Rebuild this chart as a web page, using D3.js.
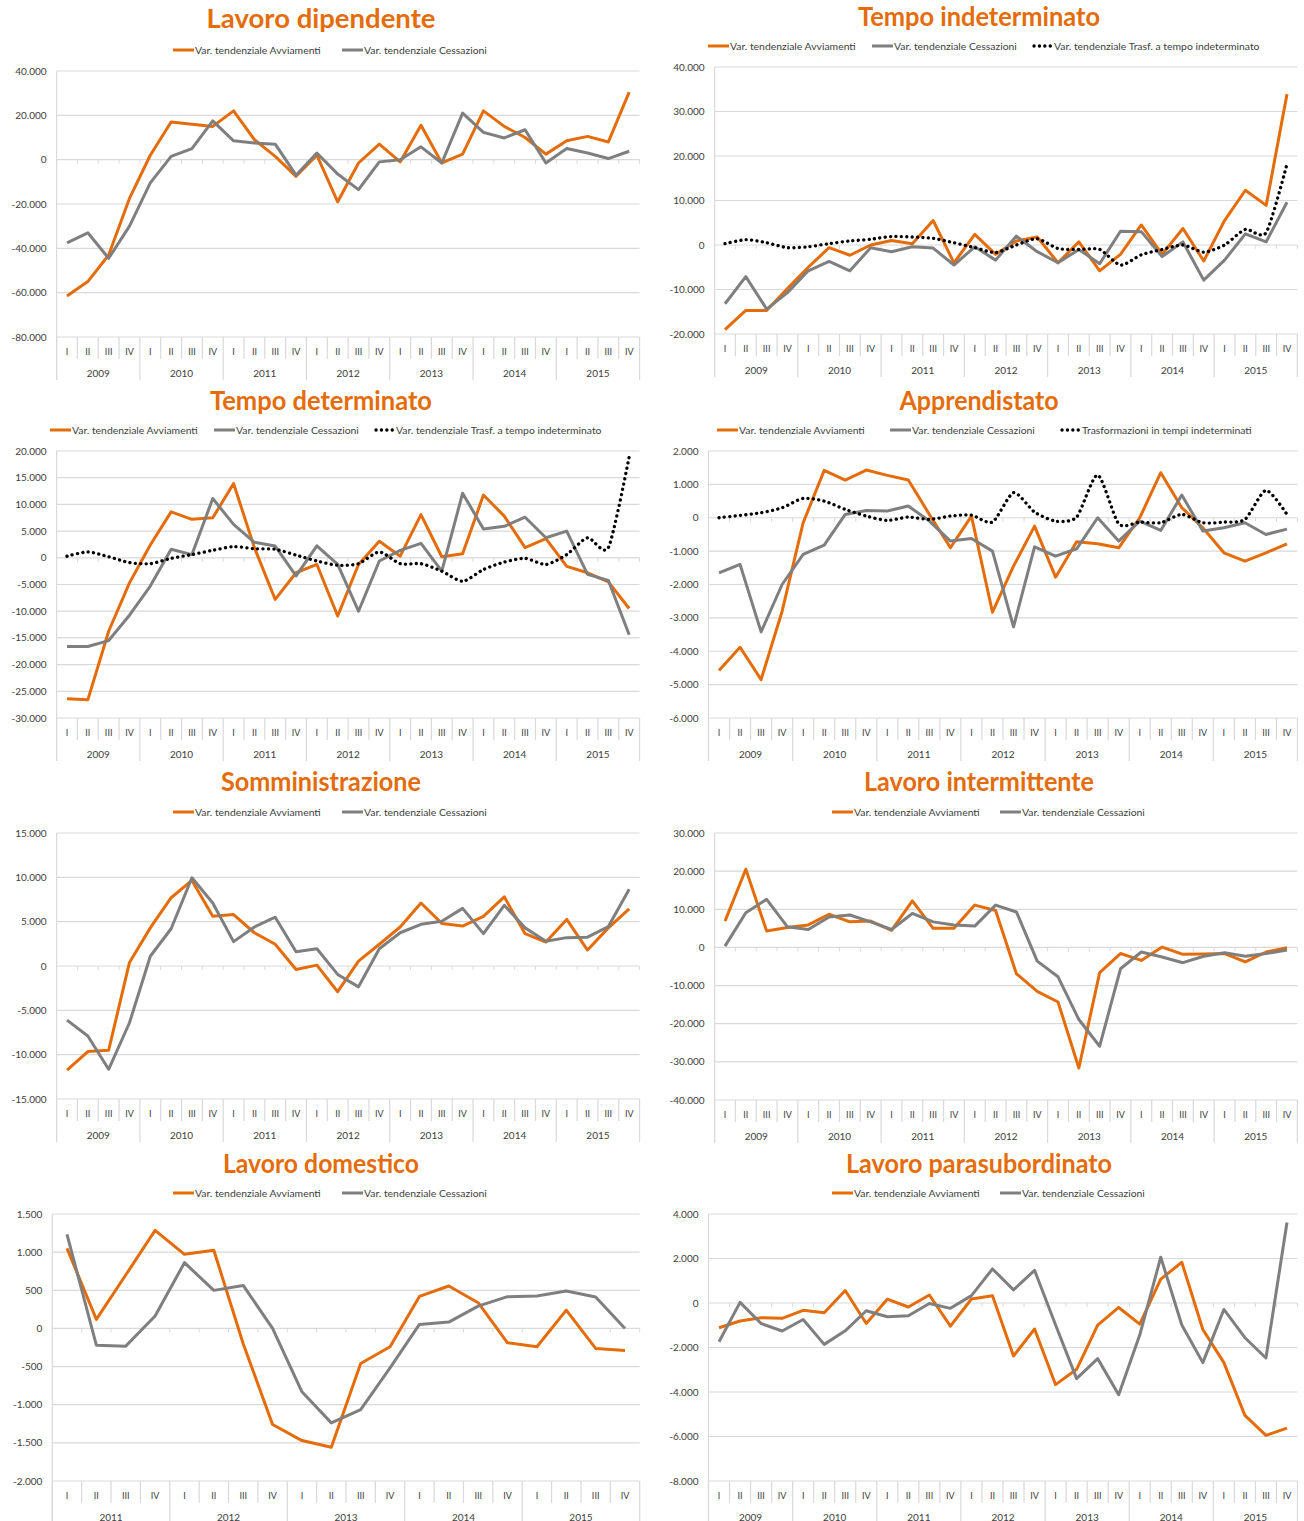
<!DOCTYPE html>
<html>
<head>
<meta charset="utf-8">
<script src="https://cdn.jsdelivr.net/npm/d3@7"></script>
<style>
  body { margin: 0; background: #fff; }
  svg { display: block; font-family: Lato, "Open Sans", sans-serif; }
</style>
</head>
<body>
<svg id="chart" width="1304" height="1521"></svg>
<script>
// quarters and years on the category axis
var quarters = ['I', 'II', 'III', 'IV'];
var years = ['2009', '2010', '2011', '2012', '2013', '2014', '2015'];
var yearsDomestico = ['2011', '2012', '2013', '2014', '2015'];

var labAvv = 'Var. tendenziale Avviamenti';
var labCess = 'Var. tendenziale Cessazioni';
var labTrasf = 'Var. tendenziale Trasf. a tempo indeterminato';
var labTrasfApp = 'Trasformazioni in tempi indeterminati';

// Lavoro dipendente
var dipAvv = [-61500, -55000, -43000, -17500, 2000, 17000, 16000, 15000, 22000, 9000, 1500, -7500,
  2000, -19000, -1500, 7000, -1000, 15500, -1500, 2500, 22000, 15000, 10000, 2500, 8500, 10500, 8000, 30500];
var dipCess = [-37500, -33000, -44500, -30000, -10500, 1500, 5000, 17500, 8500, 7500, 7000, -7000,
  3000, -6500, -13500, -1000, 0, 5800, -1500, 21000, 12300, 9800, 13500, -1500, 5000, 3000, 500, 3800];

// Tempo indeterminato
var indAvv = [-19000, -14700, -14700, -9800, -5000, -600, -2300, 0, 1000, 300, 5500, -4000,
  2400, -2100, 900, 1800, -4000, 700, -5800, -2100, 4500, -2100, 3700, -3600, 5500, 12300, 8900, 33900];
var indCess = [-13200, -7100, -14400, -10700, -5800, -3700, -5800, -600, -1500, -400, -700, -4500,
  -400, -3400, 2000, -1500, -4000, -1000, -4200, 3100, 3000, -2600, 700, -7900, -3400, 2500, 700, 9600];
var indTrasf = [300, 1200, 500, -600, -400, 300, 900, 1300, 1900, 1800, 1500, 500,
  -600, -1700, 0, 1400, -800, -1000, -1000, -4500, -2200, -1000, 0, -1600, 0, 3500, 2800, 18200];

// Tempo determinato
var detAvv = [-26400, -26600, -13750, -4700, 2400, 8600, 7200, 7500, 13900, 1900, -7800, -2800,
  -1250, -10900, -1250, 3100, 300, 8100, 200, 750, 11750, 7800, 1900, 3600, -1600, -2800, -4500, -9500];
var detCess = [-16600, -16600, -15500, -10750, -5300, 1600, 600, 11100, 6250, 2900, 2200, -3400,
  2250, -1250, -10000, -600, 1400, 2700, -2500, 12100, 5400, 5900, 7600, 3750, 5000, -3100, -4250, -14400];
var detTrasf = [300, 1100, 200, -900, -1100, -100, 600, 1400, 2100, 1700, 1600, 500,
  -600, -1400, -1100, 1100, -1100, -1100, -2500, -4400, -2200, -800, -100, -1250, 600, 3750, 1900, 18900];

// Apprendistato
var appAvv = [-4580, -3880, -4850, -2800, -150, 1420, 1130, 1430, 1270, 1130, 100, -900,
  50, -2830, -1450, -250, -1780, -720, -780, -900, 0, 1350, 300, -300, -1050, -1300, -1050, -780];
var appCess = [-1650, -1400, -3420, -2000, -1100, -820, 100, 220, 200, 350, -100, -700,
  -620, -1000, -3270, -870, -1150, -930, 0, -700, -100, -380, 680, -400, -300, -150, -500, -340];
var appTrasf = [0, 70, 150, 300, 580, 500, 250, 50, -80, 20, -50, 50,
  80, -130, 750, 170, -100, 20, 1280, -180, -130, -150, 100, -150, -130, -50, 820, 100];

// Somministrazione
var somAvv = [-11750, -9650, -9500, 400, 4300, 7700, 9650, 5600, 5800, 3750, 2450, -400,
  100, -2900, 550, 2450, 4400, 7100, 4800, 4500, 5600, 7800, 3650, 2700, 5250, 1800, 4300, 6450];
var somCess = [-6100, -7900, -11650, -6400, 1100, 4200, 9950, 7100, 2750, 4400, 5500, 1600,
  1950, -950, -2350, 1950, 3750, 4700, 5050, 6500, 3650, 6850, 4300, 2800, 3200, 3250, 4450, 8650];

// Lavoro intermittente
var intAvv = [6900, 20500, 4300, 5200, 5900, 8700, 6700, 6900, 4500, 12200, 5000, 5000,
  11100, 9700, -6900, -11500, -14300, -31600, -6600, -1600, -3400, 100, -1800, -1700, -1600, -3800, -1200, -100];
var intCess = [350, 9100, 12600, 5400, 4700, 8000, 8500, 6700, 4700, 8900, 6700, 5900,
  5600, 11100, 9300, -3600, -7700, -18900, -25900, -5600, -1200, -2500, -4000, -2300, -1400, -2300, -1600, -700];

// Lavoro domestico (2011-2015)
var domAvv = [1050, 118, 700, 1286, 971, 1024, -201, -1260, -1470, -1557,
  -459, -240, 420, 556, 337, -188, -240, 240, -262, -289];
var domCess = [1234, -219, -232, 162, 862, 499, 564, 0, -831, -1238,
  -1063, -516, 52, 83, 293, 416, 424, 490, 411, 0];

// Lavoro parasubordinato
var parAvv = [-1110, -810, -660, -690, -330, -440, 560, -920, 170, -180, 360, -1040,
  180, 330, -2380, -1170, -3670, -2980, -990, -200, -950, 1070, 1830, -1190, -2680, -5050, -5950, -5620];
var parCess = [-1740, 30, -920, -1260, -740, -1860, -1250, -350, -620, -570, -20, -240,
  330, 1530, 590, 1470, -990, -3400, -2500, -4120, -1440, 2060, -990, -2680, -290, -1560, -2470, 3620];

var ORANGE = '#e46c0a', GREY = '#7f7f7f', TEXT = '#404040', GRID = '#d9d9d9';

var it = d3.formatLocale({ decimal: ',', thousands: '.', grouping: [3], currency: ['€', ''], minus: '-' });
var fmt = it.format(',');

var svg = d3.select('#chart');
svg.append('rect').attr('width', 1304).attr('height', 1521).attr('fill', '#fff');

var panels = [
  { title: 'Lavoro dipendente', titleW: 229, years: years, domain: [-80000, 40000], step: 20000,
    x0: 56.6, x1: 639.6, y0: 71, y1: 337, titleY: 19, legY: 50, cx: 321,
    series: [[dipAvv, labAvv, 'o', 173], [dipCess, labCess, 'g', 342]] },
  { title: 'Tempo indeterminato', titleW: 242, years: years, domain: [-20000, 40000], step: 10000,
    x0: 714.6, x1: 1297.4, y0: 67, y1: 334, titleY: 17, legY: 46, cx: 979,
    series: [[indAvv, labAvv, 'o', 708], [indCess, labCess, 'g', 872], [indTrasf, labTrasf, 'd', 1032]] },
  { title: 'Tempo determinato', titleW: 222, years: years, domain: [-30000, 20000], step: 5000,
    x0: 56.6, x1: 639.6, y0: 451, y1: 718, titleY: 401, legY: 430, cx: 321,
    series: [[detAvv, labAvv, 'o', 50], [detCess, labCess, 'g', 214], [detTrasf, labTrasf, 'd', 374]] },
  { title: 'Apprendistato', titleW: 159, years: years, domain: [-6000, 2000], step: 1000,
    x0: 708.5, x1: 1297.5, y0: 451, y1: 718, titleY: 401, legY: 430, cx: 979,
    series: [[appAvv, labAvv, 'o', 717], [appCess, labCess, 'g', 890], [appTrasf, labTrasfApp, 'd', 1060]] },
  { title: 'Somministrazione', titleW: 200, years: years, domain: [-15000, 15000], step: 5000,
    x0: 56.6, x1: 639.6, y0: 833, y1: 1099, titleY: 782, legY: 812, cx: 321,
    series: [[somAvv, labAvv, 'o', 173], [somCess, labCess, 'g', 342]] },
  { title: 'Lavoro intermittente', titleW: 230, years: years, domain: [-40000, 30000], step: 10000,
    x0: 714.6, x1: 1297.4, y0: 833, y1: 1100, titleY: 782, legY: 812, cx: 979,
    series: [[intAvv, labAvv, 'o', 832], [intCess, labCess, 'g', 1000]] },
  { title: 'Lavoro domestico', titleW: 196, years: yearsDomestico, domain: [-2000, 1500], step: 500,
    x0: 52.3, x1: 639.7, y0: 1214, y1: 1481, titleY: 1164, legY: 1193, cx: 321,
    series: [[domAvv, labAvv, 'o', 173], [domCess, labCess, 'g', 342]] },
  { title: 'Lavoro parasubordinato', titleW: 266, years: years, domain: [-8000, 4000], step: 2000,
    x0: 708.5, x1: 1297.5, y0: 1214, y1: 1481, titleY: 1164, legY: 1193, cx: 979,
    series: [[parAvv, labAvv, 'o', 832], [parCess, labCess, 'g', 1000]] }
];

function styleLine(sel, kind) {
  if (kind === 'o') sel.attr('stroke', ORANGE).attr('stroke-width', 3);
  else if (kind === 'g') sel.attr('stroke', GREY).attr('stroke-width', 3);
  else sel.attr('stroke', '#000').attr('stroke-width', 3.3)
    .attr('stroke-linecap', 'round').attr('stroke-dasharray', '0.1,5.3');
  return sel;
}

function drawPanel(p) {
  var g = svg.append('g');
  var keys = [];
  p.years.forEach(function(yr) { quarters.forEach(function(q) { keys.push(yr + '-' + q); }); });

  var x = d3.scaleBand().domain(keys).range([p.x0, p.x1]).padding(0);
  var y = d3.scaleLinear().domain(p.domain).range([p.y1, p.y0]);
  var ticks = d3.range(p.domain[0], p.domain[1] + p.step / 2, p.step);
  var bw = x.bandwidth();

  // title
  g.append('text').attr('x', p.cx).attr('y', p.titleY).attr('dy', '0.35em')
    .attr('text-anchor', 'middle').attr('font-size', 27).attr('font-weight', 'bold')
    .attr('textLength', p.titleW).attr('lengthAdjust', 'spacingAndGlyphs')
    .attr('fill', ORANGE).text(p.title);

  // legend
  p.series.forEach(function(s) {
    var lx = s[3];
    var sw = g.append('line').attr('x1', lx).attr('x2', lx + 21)
      .attr('y1', p.legY).attr('y2', p.legY);
    styleLine(sw, s[2]);
    if (s[2] === 'd') sw.attr('x1', lx + 2).attr('x2', lx + 22);
    g.append('text').attr('x', lx + 22).attr('y', p.legY).attr('dy', '0.35em')
      .attr('font-size', 10.4).attr('fill', TEXT).text(s[1]);
  });

  // gridlines
  g.selectAll('.grid').data(ticks).enter().append('line')
    .attr('x1', p.x0).attr('x2', p.x1)
    .attr('y1', function(d) { return y(d); }).attr('y2', function(d) { return y(d); })
    .attr('stroke', GRID).attr('stroke-width', 1.2);

  // y labels
  g.selectAll('.ylab').data(ticks).enter().append('text')
    .attr('x', p.x0 - 10).attr('y', function(d) { return y(d); }).attr('dy', '0.35em')
    .attr('text-anchor', 'end').attr('font-size', 10).attr('fill', TEXT)
    .text(function(d) { return fmt(d); });

  // zero axis tick marks
  var bounds = keys.map(function(k) { return x(k); }).concat([p.x1]);
  g.selectAll('.ztick').data(bounds).enter().append('line')
    .attr('x1', function(d) { return d; }).attr('x2', function(d) { return d; })
    .attr('y1', y(0)).attr('y2', y(0) + 4)
    .attr('stroke', GRID).attr('stroke-width', 1);

  // left axis
  g.append('line').attr('x1', p.x0).attr('x2', p.x0)
    .attr('y1', p.y0).attr('y2', p.y1 + 43)
    .attr('stroke', GRID).attr('stroke-width', 1.2);

  // category separators
  g.selectAll('.sep').data(bounds).enter().append('line')
    .attr('x1', function(d) { return d; }).attr('x2', function(d) { return d; })
    .attr('y1', p.y1)
    .attr('y2', function(d, i) { return i % 4 === 0 ? p.y1 + 43 : p.y1 + 22; })
    .attr('stroke', GRID).attr('stroke-width', 1.2);

  // quarter labels
  g.selectAll('.qlab').data(keys).enter().append('text')
    .attr('x', function(d) { return x(d) + bw / 2; })
    .attr('y', p.y1 + 15).attr('dy', '0.35em')
    .attr('text-anchor', 'middle').attr('font-size', 9).attr('fill', TEXT)
    .text(function(d) { return d.split('-')[1]; });

  // year labels
  g.selectAll('.ylab2').data(p.years).enter().append('text')
    .attr('x', function(d) { return x(d + '-I') + bw * 2; })
    .attr('y', p.y1 + 36).attr('dy', '0.35em')
    .attr('text-anchor', 'middle').attr('font-size', 10).attr('fill', TEXT)
    .text(function(d) { return d; });

  // series lines
  p.series.forEach(function(s) {
    var line = d3.line()
      .x(function(d, i) { return x(keys[i]) + bw / 2; })
      .y(function(d) { return y(d); })
      .curve(s[2] === 'd' ? d3.curveCardinal.tension(0.3) : d3.curveLinear);
    var path = g.append('path').datum(s[0]).attr('d', line)
      .attr('fill', 'none').attr('stroke-linejoin', 'round');
    styleLine(path, s[2]);
  });
}

panels.forEach(drawPanel);
</script>
</body>
</html>
